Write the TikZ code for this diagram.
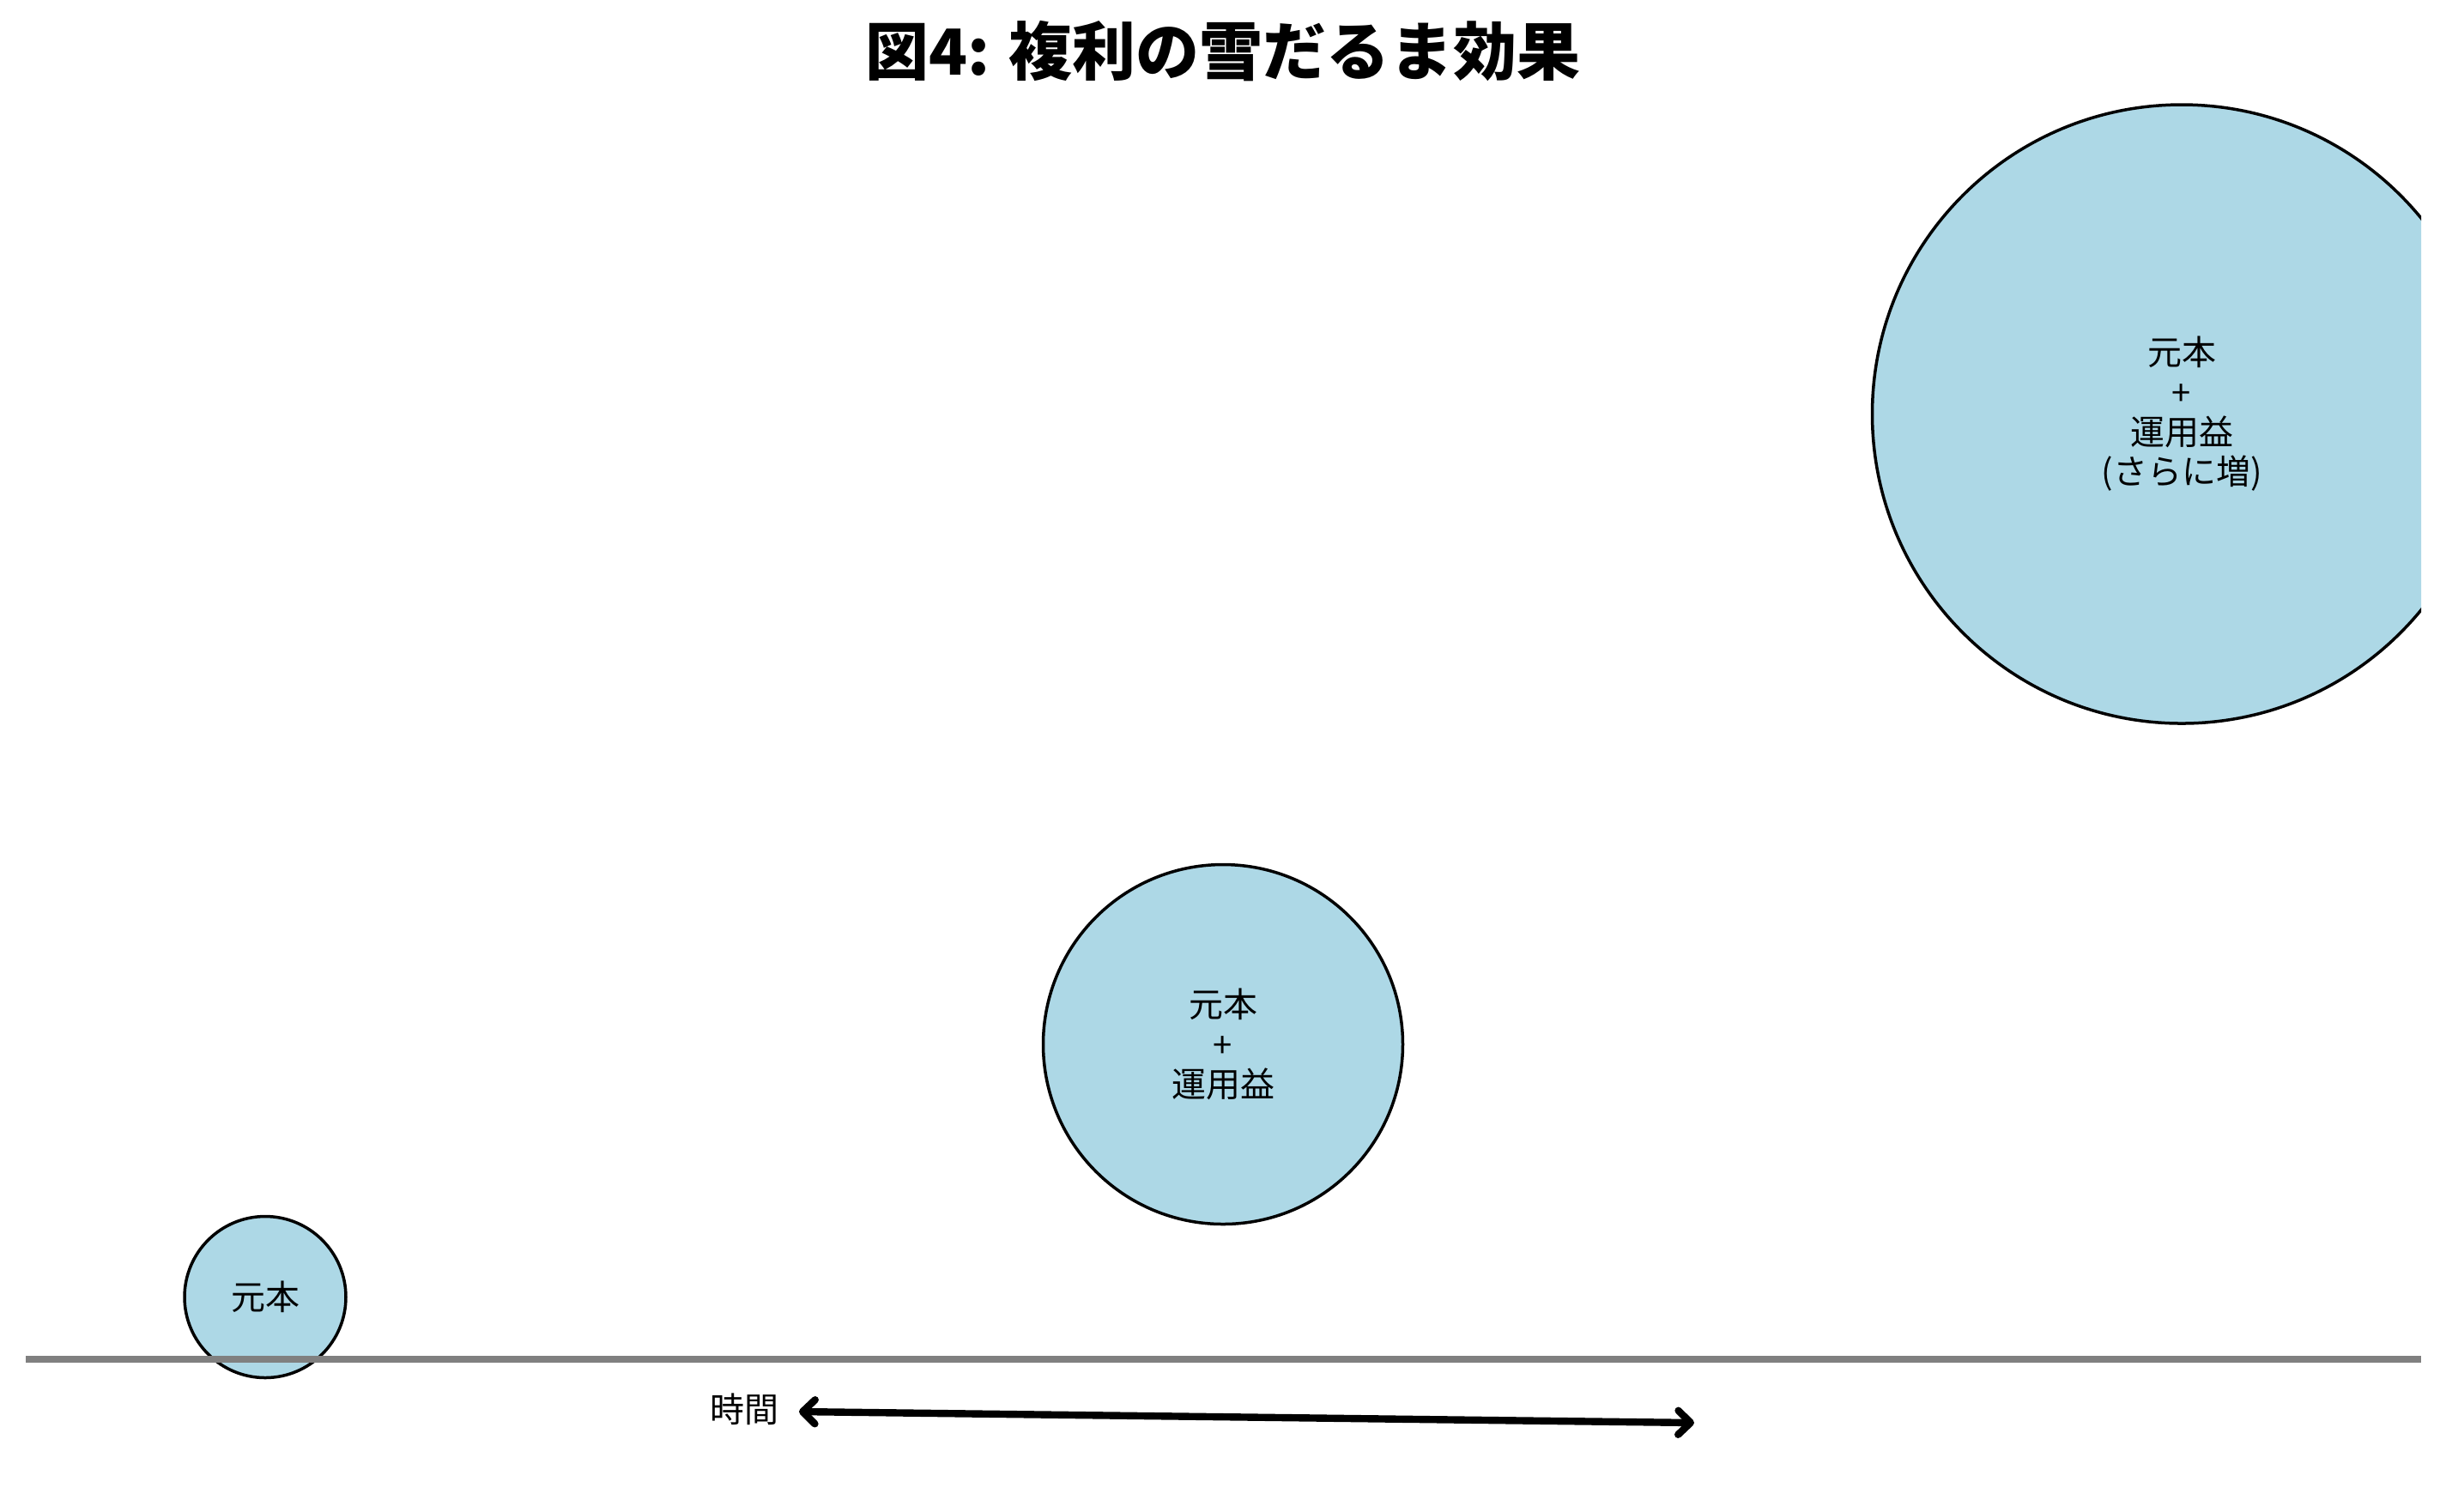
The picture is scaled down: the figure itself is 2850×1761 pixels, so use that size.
\documentclass[tikz,border=0pt]{standalone}
\usepackage{fontspec}
\setmainfont{Noto Sans CJK JP}
\usetikzlibrary{arrows.meta}
\definecolor{ballblue}{RGB}{173,216,230}
\definecolor{groundgray}{RGB}{128,128,128}
\tikzset{
  ball/.style={circle, draw=black, fill=ballblue, line width=0.875pt,
    inner sep=0pt, outer sep=0pt, align=center,
    font=\fontsize{10}{11.6}\selectfont},
  ground/.style={draw=groundgray, line width=2pt},
  timearrow/.style={line width=2.1pt,
    {Straight Barb[length=3.6pt,width=7pt,line cap=round,line join=round]}-{Straight Barb[length=3.6pt,width=7pt,line cap=round,line join=round]}},
  smalltext/.style={font=\fontsize{10}{12}\selectfont, inner sep=0pt},
  titletext/.style={font=\fontsize{18.5}{22}\selectfont\bfseries, inner sep=0pt}
}
\begin{document}
\begin{tikzpicture}[x=0.25pt, y=-0.25pt]
\useasboundingbox (0,0) rectangle (2850,1761);
% title
\node[titletext] (title) at (1425,60) {図4: 複利の雪だるま効果};
% ground
\coordinate (gL) at (30,1584);
\coordinate (gR) at (2821,1584);
% balls (clipped to axes area)
\begin{scope}
\clip (30,0) rectangle (2821,1761);
\node[ball, minimum size=47pt] (b1) at (309,1511.5) {元本};
\node[ball, minimum size=104.75pt] (b2) at (1425,1217) {元本\\+\\運用益};
\node[ball, minimum size=180.25pt] (b3) at (2542,482.5) {元本\\+\\運用益\\(さらに増)};
\end{scope}
\draw[ground] (gL) -- (gR);
% time arrow
\coordinate (tL) at (931,1645);
\coordinate (tR) at (1974,1658);
\draw[timearrow] (tL) -- (tR);
\node[smalltext, anchor=east] (time) at (908,1642) {時間};
\end{tikzpicture}
\end{document}
